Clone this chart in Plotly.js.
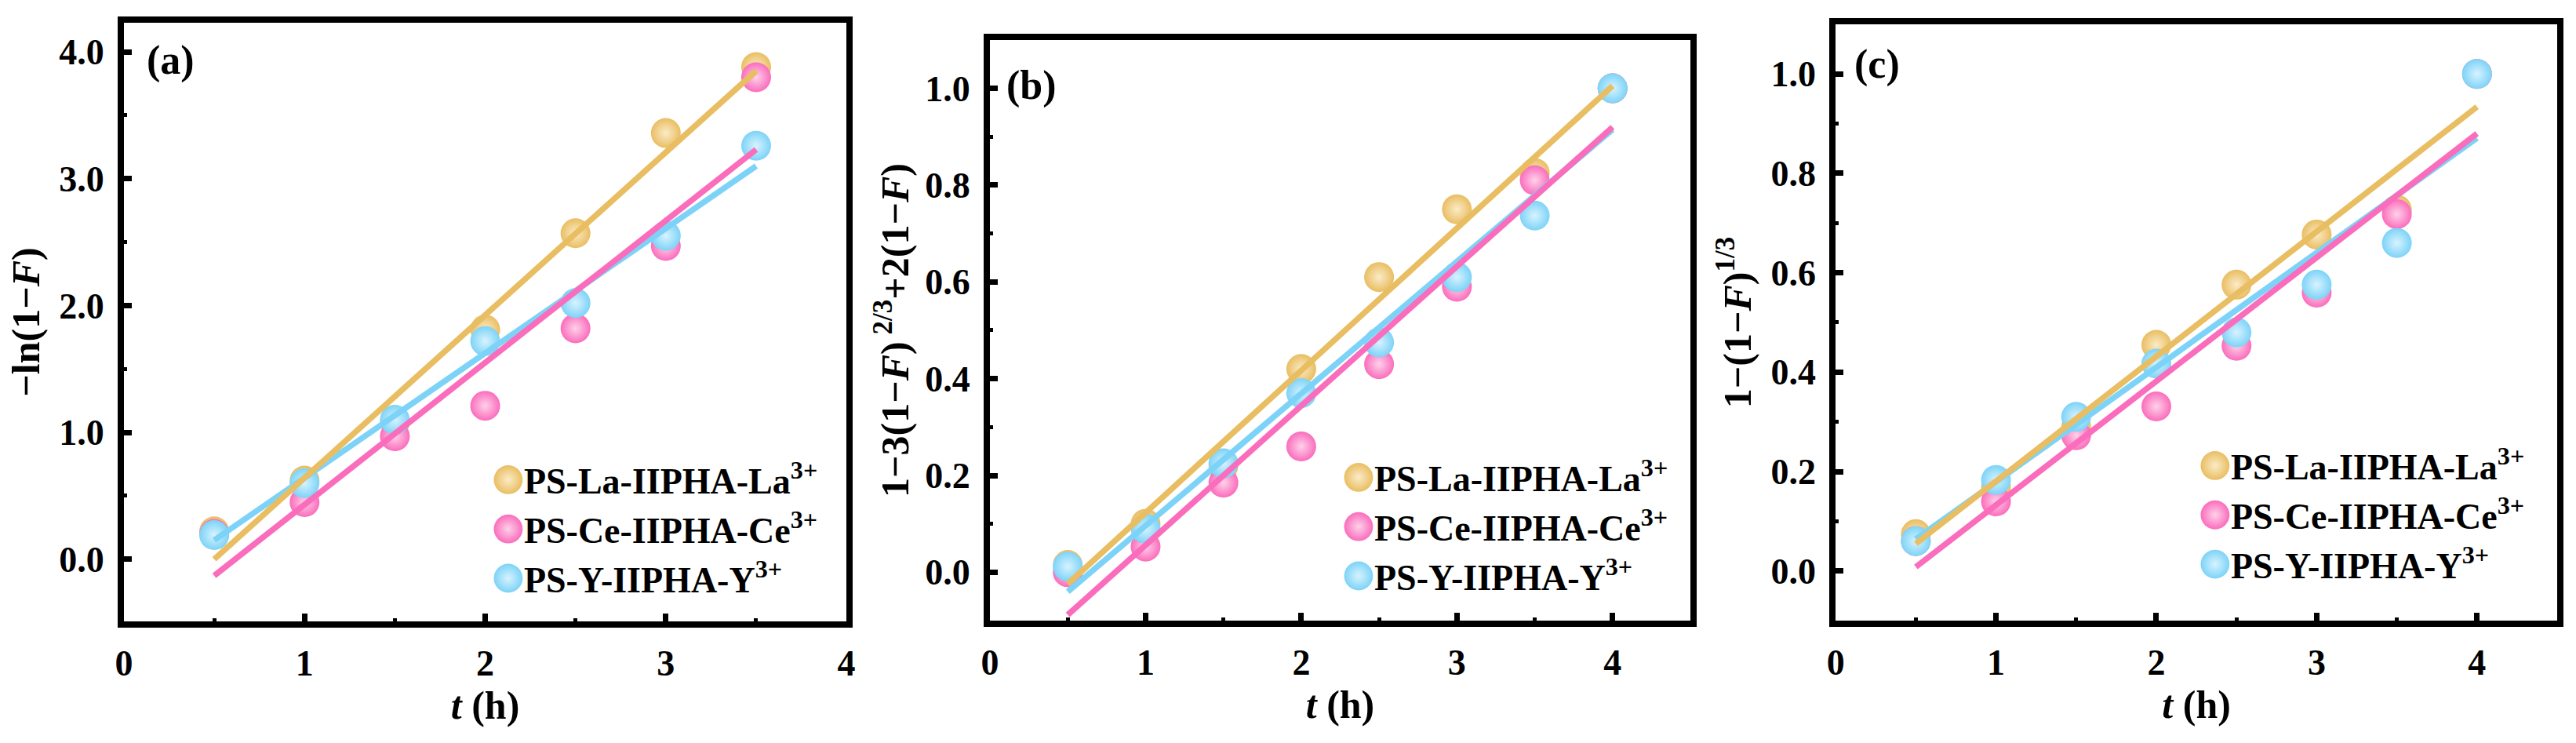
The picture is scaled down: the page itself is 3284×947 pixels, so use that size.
<!DOCTYPE html>
<html>
<head>
<meta charset="utf-8">
<script src="https://cdn.plot.ly/plotly-3.0.1.min.js"></script>
<style>
  html, body { margin: 0; padding: 0; background: #fff; }
  #chart { width: 3284px; height: 947px; }
</style>
</head>
<body>
<div id="chart"></div>
<script>
// series names and colours
var names = ['PS-La-IIPHA-La<sup>3+</sup>', 'PS-Ce-IIPHA-Ce<sup>3+</sup>', 'PS-Y-IIPHA-Y<sup>3+</sup>'];
var colors = ['#E9BE62', '#FA6DBC', '#7DD3F7'];
var shine = ['#FBEBC8', '#FFD2EA', '#D8F3FF'];

// (a) -ln(1-F)
var tA = [0.5, 1, 1.5, 2, 2.5, 3, 3.5];
var aLa = [0.22, 0.62, 1.08, 1.81, 2.57, 3.36, 3.88];
var aCe = [0.20, 0.45, 0.97, 1.21, 1.82, 2.47, 3.80];
var aY  = [0.19, 0.60, 1.10, 1.72, 2.02, 2.55, 3.26];
var tFitA = [0.5, 3.5];
var aLaFit = [0.00, 3.85];
var aCeFit = [-0.13, 3.23];
var aYFit  = [0.15, 3.10];

// (b) 1-3(1-F)^(2/3)+2(1-F)
var tB = [0.5, 1, 1.5, 2, 2.5, 3, 3.5, 4];
var bLa = [0.015, 0.10, 0.22, 0.42, 0.61, 0.75, 0.825, 1.0];
var bCe = [0.00, 0.053, 0.185, 0.26, 0.43, 0.59, 0.81, 1.0];
var bY  = [0.012, 0.09, 0.225, 0.37, 0.475, 0.61, 0.737, 1.0];
var tFitB = [0.5, 4];
var bLaFit = [-0.024, 1.005];
var bCeFit = [-0.088, 0.92];
var bYFit  = [-0.04, 0.915];

// (c) 1-(1-F)^(1/3)
var tC = [0.5, 1, 1.5, 2, 2.5, 3, 3.5, 4];
var cLa = [0.074, 0.17, 0.29, 0.455, 0.576, 0.677, 0.727, 1.0];
var cCe = [0.06, 0.14, 0.273, 0.331, 0.453, 0.56, 0.718, 1.0];
var cY  = [0.06, 0.183, 0.31, 0.417, 0.48, 0.576, 0.66, 1.0];
var tFitC = [0.5, 4];
var cLaFit = [0.055, 0.934];
var cCeFit = [0.008, 0.88];
var cYFit  = [0.064, 0.871];

var panels = [
  {xa: 'x', ya: 'y', leg: 'legend', t: tA, pts: [aLa, aCe, aY], tf: tFitA, fits: [aLaFit, aCeFit, aYFit]},
  {xa: 'x2', ya: 'y2', leg: 'legend2', t: tB, pts: [bLa, bCe, bY], tf: tFitB, fits: [bLaFit, bCeFit, bYFit]},
  {xa: 'x3', ya: 'y3', leg: 'legend3', t: tC, pts: [cLa, cCe, cY], tf: tFitC, fits: [cLaFit, cCeFit, cYFit]}
];

var data = [];
panels.forEach(function(p) {
  // spheres first, fit lines drawn over them
  p.pts.forEach(function(vals, i) {
    data.push({
      type: 'scatter', mode: 'markers', x: p.t, y: vals,
      xaxis: p.xa, yaxis: p.ya, legend: p.leg, name: names[i],
      marker: {size: 38, color: colors[i], line: {width: 0},
               gradient: {type: 'radial', color: shine[i]}}
    });
  });
  [2, 1, 0].forEach(function(i) {
    data.push({
      type: 'scatter', mode: 'lines', x: p.tf, y: p.fits[i],
      xaxis: p.xa, yaxis: p.ya, showlegend: false,
      line: {color: colors[i], width: 7.5}
    });
  });
});

var serif = '"Liberation Serif", "Times New Roman", Times, serif';
var tickFont = {family: serif, size: 46, color: '#000', weight: 'bold'};
var titleFont = {family: serif, size: 50, color: '#000', weight: 'bold'};

function xAxis(dom, range, anchor) {
  return {
    domain: dom, range: range, anchor: anchor, dtick: 1, tick0: 0,
    showline: true, mirror: true, linewidth: 8, linecolor: '#000',
    showgrid: false, zeroline: false,
    ticks: 'inside', ticklen: 10, tickwidth: 7, tickcolor: '#000',
    minor: {ticks: 'inside', dtick: 0.5, ticklen: 4, tickwidth: 5, tickcolor: '#000'},
    tickfont: tickFont, ticklabelstandoff: 6,
    title: {text: '<i>t</i> (h)', font: titleFont, standoff: 14}
  };
}
function yAxis(dom, range, anchor, dt, title, standoff) {
  return {
    domain: dom, range: range, anchor: anchor, dtick: dt, tick0: 0, tickformat: '.1f',
    showline: true, mirror: true, linewidth: 8, linecolor: '#000',
    showgrid: false, zeroline: false,
    ticks: 'inside', ticklen: 10, tickwidth: 7, tickcolor: '#000',
    minor: {ticks: 'inside', dtick: dt / 2, ticklen: 4, tickwidth: 5, tickcolor: '#000'},
    tickfont: tickFont, ticklabelstandoff: 8,
    title: {text: title, font: titleFont, standoff: standoff}
  };
}
function legendAt(x, y) {
  return {
    x: x, y: y, xanchor: 'left', yanchor: 'top', xref: 'paper', yref: 'paper',
    bgcolor: 'rgba(0,0,0,0)', borderwidth: 0, tracegroupgap: 0,
    font: {family: serif, size: 46, color: '#000', weight: 'bold'}
  };
}
function label(txt, x, y) {
  return {text: txt, x: x, y: y, xref: 'paper', yref: 'paper', xanchor: 'left', yanchor: 'middle',
          showarrow: false, font: {family: serif, size: 52, color: '#000', weight: 'bold'}};
}

var layout = {
  width: 3284, height: 947,
  margin: {l: 0, r: 0, t: 0, b: 0},
  paper_bgcolor: '#fff', plot_bgcolor: '#fff',
  showlegend: true,
  xaxis: xAxis([0.0481, 0.3286], [0, 4], 'y'),
  yaxis: yAxis([0.1637, 0.9694], [-0.49, 4.23], 'x', 1, '\u2212ln(1\u2212<i>F</i>)', 12),
  xaxis2: xAxis([0.3843, 0.6562], [0, 4.5], 'y2'),
  yaxis2: yAxis([0.1647, 0.9462], [-0.1, 1.1], 'x2', 0.2,
                '1\u22123(1\u2212<i>F</i>)<sup> 2/3</sup>+2(1\u2212<i>F</i>)', 8),
  xaxis3: xAxis([0.7126, 0.9927], [0, 4.5], 'y3'),
  yaxis3: yAxis([0.1647, 0.9673], [-0.1, 1.1], 'x3', 0.2,
                '1\u2212(1\u2212<i>F</i>)<sup>1/3</sup>', 12),
  legend: legendAt(0.1912, 0.3928),
  legend2: legendAt(0.5213, 0.396),
  legend3: legendAt(0.8538, 0.4118),
  annotations: [
    label('(a)', 0.0563, 0.9187),
    label('(b)', 0.3901, 0.8849),
    label('(c)', 0.7192, 0.9134)
  ]
};

var config = {staticPlot: true, displaylogo: false};

Plotly.newPlot('chart', data, layout, config).then(function(gd) {
  // legend symbols are capped at 16px by plotly; enlarge them to match the plotted spheres
  gd.querySelectorAll('.legendpoints path.scatterpts').forEach(function(p) {
    var tr = p.getAttribute('transform') || '';
    p.setAttribute('transform', tr + ' scale(2.3)');
  });
});
</script>
</body>
</html>
